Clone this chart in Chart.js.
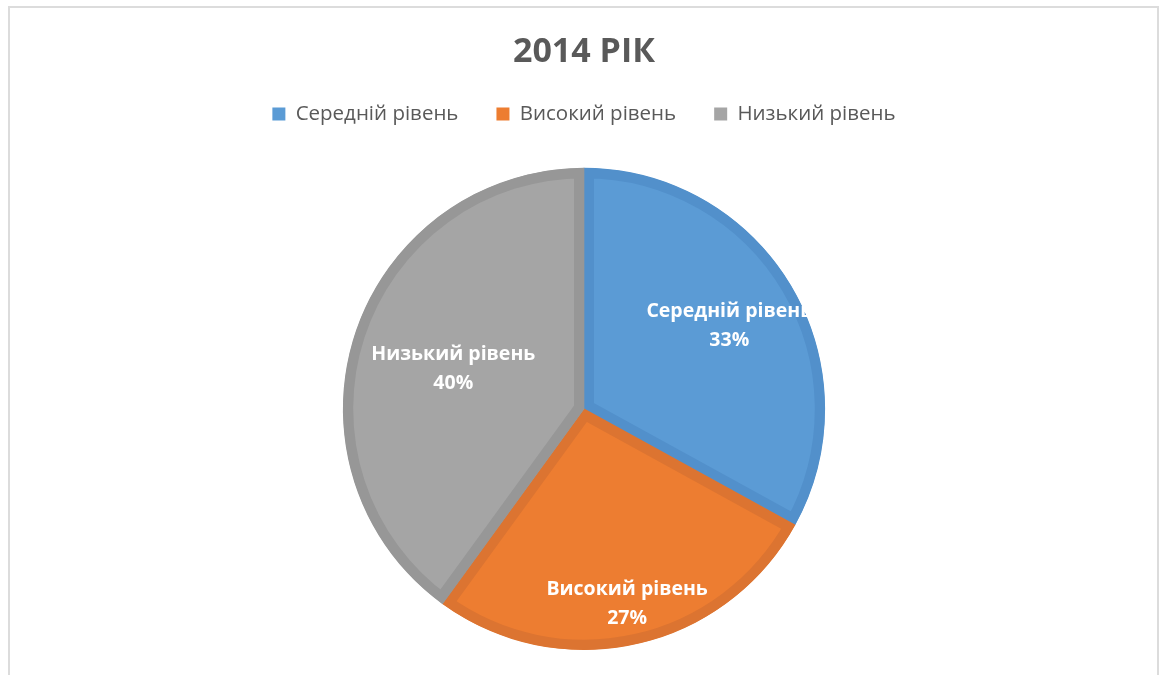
<!DOCTYPE html>
<html>
<head>
<meta charset="utf-8">
<script src="https://cdn.jsdelivr.net/npm/chart.js@4"></script>
<style>
	html, body { margin: 0; padding: 0; background: #fff; overflow: hidden; }
	#frame {
		position: absolute; left: 8px; top: 6px; width: 1151px; height: 720px;
		border: 2px solid #dcdcdc; box-sizing: border-box;
	}
	#wrap { position: absolute; left: 0; top: 0; width: 1163px; height: 675px; }
</style>
</head>
<body>
<div id="frame"></div>
<div id="wrap"><canvas id="myChart" width="1163" height="675"></canvas></div>
<script>
var levels = ["Середній рівень", "Високий рівень", "Низький рівень"];
var shares = [33, 27, 40];
var chartTitle = "2014 РІК";

var fills = ["#5b9bd5", "#ed7d31", "#a5a5a5"];
var edges = ["#5290cb", "#dc7431", "#979797"];
// how far out (fraction of radius) each slice label sits
var labelDist = [0.70, 0.82, 0.57];

var font = "'Open Sans', 'Noto Sans', sans-serif";

// white bold labels inside each slice
var sliceLabels = {
	id: "sliceLabels",
	afterDatasetsDraw: function(chart) {
		var ctx = chart.ctx;
		var meta = chart.getDatasetMeta(0);
		ctx.save();
		ctx.fillStyle = "#ffffff";
		ctx.font = "bold 19.5px " + font;
		ctx.textAlign = "center";
		ctx.textBaseline = "middle";
		meta.data.forEach(function(arc, i) {
			var mid = (arc.startAngle + arc.endAngle) / 2;
			var r = arc.outerRadius * labelDist[i];
			var x = arc.x + Math.cos(mid) * r;
			var y = arc.y + Math.sin(mid) * r;
			ctx.fillText(levels[i], x, y - 12);
			ctx.fillText(shares[i] + "%", x, y + 17);
		});
		ctx.restore();
	}
};

// extra room between the legend and the pie
var legendGap = {
	id: "legendGap",
	beforeInit: function(chart) {
		var fit = chart.legend.fit;
		chart.legend.fit = function() {
			fit.call(this);
			this.height += 33.5;
		};
	}
};

var ctx = document.getElementById("myChart");

var myChart = new Chart(ctx, {
	type: "pie",
	data: {
		labels: levels,
		datasets: [{
			data: shares,
			backgroundColor: fills,
			borderColor: edges,
			borderWidth: 10,
			borderAlign: "inner",
			borderJoinStyle: "miter"
		}]
	},
	options: {
		responsive: false,
		animation: false,
		layout: { padding: { left: 5, bottom: 25 } },
		plugins: {
			title: {
				display: true,
				text: chartTitle,
				color: "#595959",
				font: { family: font, size: 34, weight: "bold" },
				padding: { top: 32, bottom: -7 }
			},
			legend: {
				position: "top",
				labels: {
					color: "#595959",
					font: { family: font, size: 20.5 },
					boxWidth: 13,
					boxHeight: 13,
					padding: 38,
					generateLabels: function(chart) {
						return levels.map(function(name, i) {
							return {
								text: name,
								fillStyle: fills[i],
								strokeStyle: fills[i],
								lineWidth: 0,
								fontColor: "#595959",
								index: i
							};
						});
					}
				}
			},
			tooltip: { enabled: false }
		}
	},
	plugins: [sliceLabels, legendGap]
});
</script>
</body>
</html>
